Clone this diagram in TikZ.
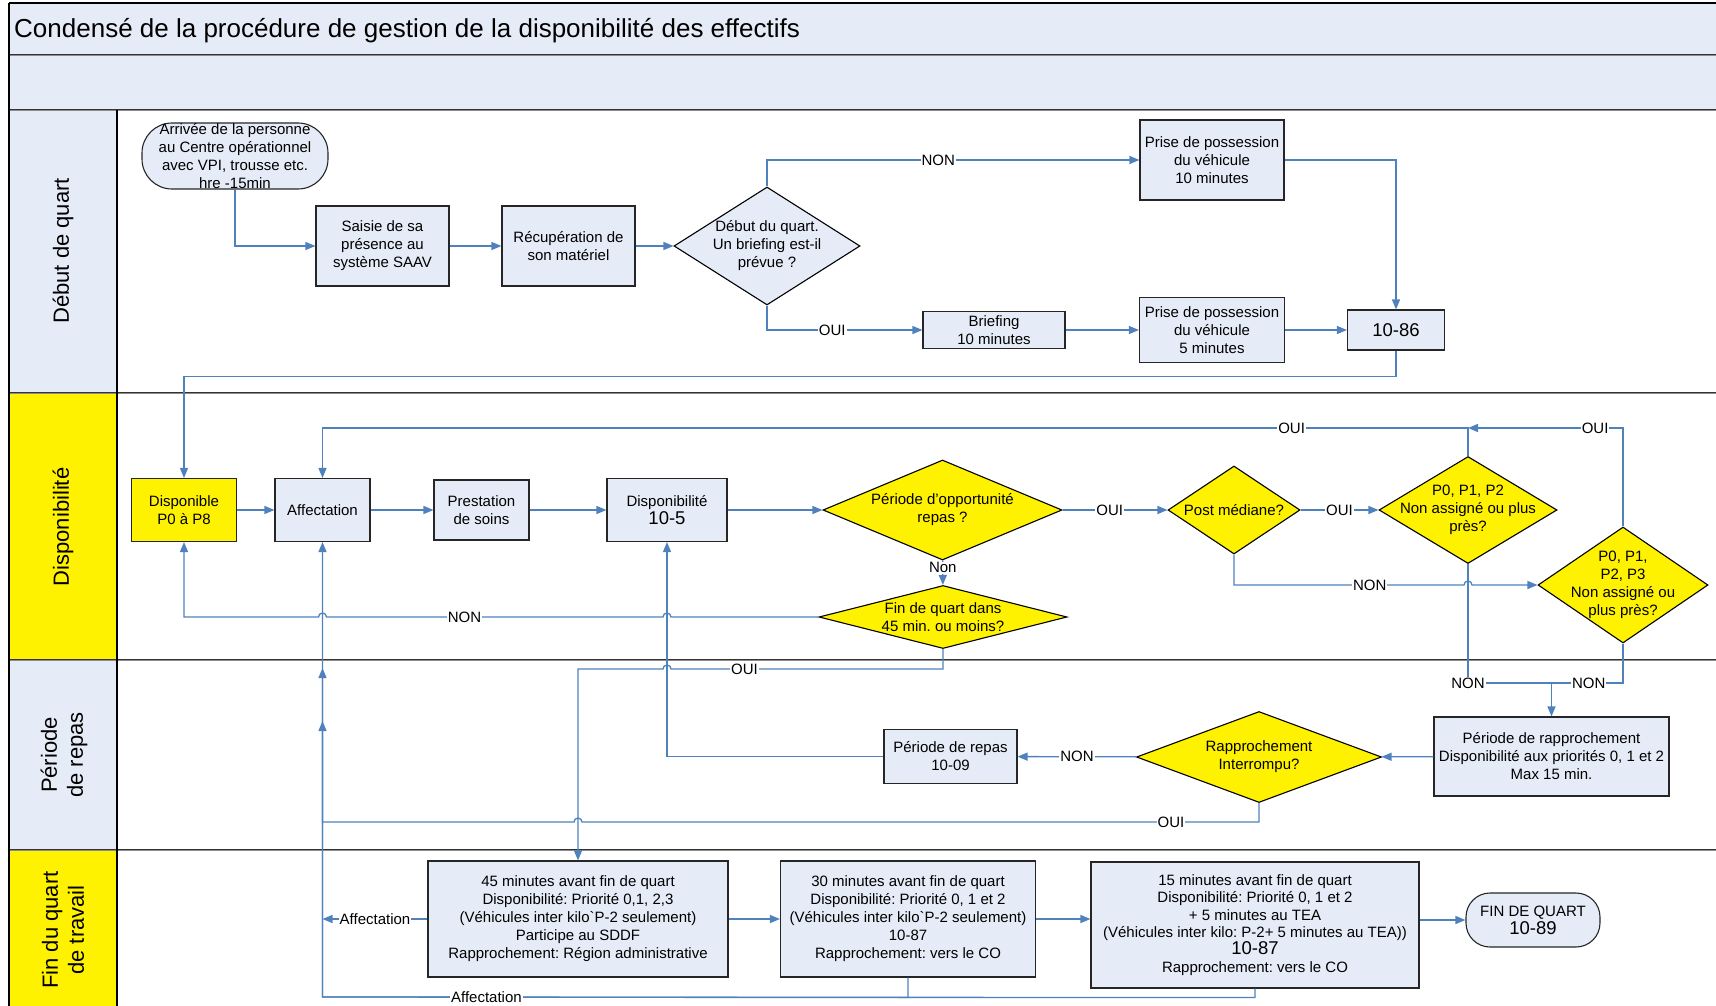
\documentclass[tikz,border=0pt]{standalone}
\usepackage{fontspec}
\setmainfont{Liberation Sans}
\usetikzlibrary{arrows.meta,shapes.geometric}

\definecolor{lanebg}{RGB}{230,236,247}
\definecolor{conn}{RGB}{79,129,189}
\newcommand{\nfont}{\fontsize{15}{18}\selectfont}
\newcommand{\bigfont}{\fontsize{18.5}{22}\selectfont}
\newcommand{\titlefont}{\fontsize{26}{30}\selectfont}
\newcommand{\lanefont}{\fontsize{22}{26}\selectfont}
\frenchspacing

\begin{document}
\begin{tikzpicture}[x=1pt, y=-1pt, >={Triangle[length=10pt,width=8pt]}, inner sep=0pt,
	box/.style={rectangle, draw=black!85, fill=lanebg, line width=1.1pt, align=center, font=\nfont},
	ybox/.style={box, fill=yellow},
	dec/.style={diamond, draw=black, fill=yellow, line width=1.1pt},
	dtxt/.style={align=center, font=\nfont},
	lbl/.style={fill=white, inner sep=1pt, font=\nfont},
	flow/.style={draw=conn, line width=1.3pt},
	lane/.style={line width=1pt, draw=black!80, double=black!45, double distance=0.8pt}]
	\useasboundingbox (0,0) rectangle (1716,1006);
	
	% bandeaux et couloirs
	\fill[lanebg] (9,3) rectangle (1716,110);
	\fill[lanebg] (9,110) rectangle (117,393);
	\fill[yellow] (9,393) rectangle (117,660);
	\fill[lanebg] (9,660) rectangle (117,850);
	\fill[yellow] (9,850) rectangle (117,1006);
	\draw[line width=1.2pt] (9,3) -- (1716,3);
	\foreach \yy in {55,110,393,660,850}
		\draw[lane] (9,\yy) -- (1716,\yy);
	\draw[line width=2pt] (9,3) -- (9,1006);
	\draw[line width=1.2pt] (117,110) -- (117,1006);
	
	\node[anchor=west, font=\titlefont] (titre) at (14,31) {Condensé de la procédure de gestion de la disponibilité des effectifs};
	\node[rotate=90, font=\lanefont] (ldebut) at (63,251) {Début de quart};
	\node[rotate=90, font=\lanefont] (ldispo) at (63,527) {Disponibilité};
	\node[rotate=90, font=\lanefont, align=center] (lrepas) at (64,755) {Période\\de repas};
	\node[rotate=90, font=\lanefont, align=center] (lfin) at (63,930) {Fin du quart\\de travail};
	
	% debut de quart
	\node[box, minimum width=186pt, minimum height=66pt, rounded corners=30pt, inner ysep=-4pt] (arrivee) at (235,156) {Arrivée de la personne\\au Centre opérationnel\\avec VPI, trousse etc.\\hre -15min};
	\node[box, minimum width=133pt, minimum height=80pt] (saisie) at (382.5,246) {Saisie de sa\\présence au\\système SAAV};
	\node[box, minimum width=133pt, minimum height=80pt] (recup) at (568.5,246) {Récupération de\\son matériel};
	\node[dec, fill=lanebg, minimum width=186pt, minimum height=118pt, label={[dtxt]center:{Début du quart.\\Un briefing est-il\\prévue ?}}] (briefq) at (767,246) {};
	\node[box, minimum width=144pt, minimum height=80pt] (prisedix) at (1212,160) {Prise de possession\\du véhicule\\10 minutes};
	\node[box, minimum width=142pt, minimum height=37pt] (briefing) at (994,330) {Briefing\\10 minutes};
	\node[box, minimum width=145pt, minimum height=65pt] (prisecinq) at (1212,330) {Prise de possession\\du véhicule\\5 minutes};
	\node[box, minimum width=97pt, minimum height=40pt, font=\bigfont] (a1086) at (1396,330) {10-86};
	
	% disponibilite
	\node[ybox, minimum width=105pt, minimum height=63pt] (dispo) at (184,510) {Disponible\\P0 à P8};
	\node[box, minimum width=95pt, minimum height=63pt] (affect) at (322.5,510) {Affectation};
	\node[box, minimum width=95pt, minimum height=60pt] (prest) at (481.5,510) {Prestation\\de soins};
	\node[box, minimum width=120pt, minimum height=63pt] (dispo105) at (667,510) {Disponibilité\\{\bigfont 10-5}};
	\node[dec, minimum width=239pt, minimum height=100pt, label={[dtxt]center:{Période d’opportunité\\repas ?}}] (opport) at (942.5,510) {};
	\node[dec, minimum width=132pt, minimum height=88pt, label={[dtxt]center:{Post médiane?}}] (postmed) at (1234,510) {};
	\node[dec, minimum width=178pt, minimum height=107pt, label={[dtxt]center:{P0, P1, P2\\Non assigné ou plus\\près?}}] (ptrois) at (1468,510) {};
	\node[dec, minimum width=170pt, minimum height=116pt, label={[dtxt]center:{P0, P1,\\P2, P3\\Non assigné ou\\plus près?}}] (pquatre) at (1623,585) {};
	\node[dec, minimum width=248pt, minimum height=63pt, label={[dtxt]center:{Fin de quart dans\\45 min. ou moins?}}] (finq) at (943,617) {};
	
	% periode de repas
	\node[box, minimum width=235pt, minimum height=79pt] (rappro) at (1551.5,756.5) {Période de rapprochement\\Disponibilité aux priorités 0, 1 et 2\\Max 15 min.};
	\node[dec, minimum width=245pt, minimum height=91pt, label={[dtxt]center:{Rapprochement\\Interrompu?}}] (interr) at (1259,757) {};
	\node[box, minimum width=133pt, minimum height=54pt] (repas) at (950.5,756.5) {Période de repas\\10-09};
	
	% fin du quart
	\node[box, minimum width=300pt, minimum height=116pt] (m45) at (578,919) {45 minutes avant fin de quart\\Disponibilité: Priorité 0,1, 2,3\\(Véhicules inter kilo\textasciigrave P-2 seulement)\\Participe au SDDF\\Rapprochement: Région administrative};
	\node[box, minimum width=255pt, minimum height=116pt] (m30) at (908,919) {30 minutes avant fin de quart\\Disponibilité: Priorité 0, 1 et 2\\(Véhicules inter kilo\textasciigrave P-2 seulement)\\10-87\\Rapprochement: vers le CO};
	\node[box, minimum width=328pt, minimum height=126pt, font=\fontsize{15}{17.3}\selectfont] (m15) at (1255,925) {15 minutes avant fin de quart\\Disponibilité: Priorité 0, 1 et 2\\+ 5 minutes au TEA\\(Véhicules inter kilo: P-2+ 5 minutes au TEA))\\{\bigfont 10-87}\\Rapprochement: vers le CO};
	\node[box, minimum width=134pt, minimum height=54pt, rounded corners=24pt] (finquart) at (1533,920) {FIN DE QUART\\{\bigfont 10-89}};
	
	% liens
	\draw[flow,->] (arrivee.south) |- (saisie.west);
	\draw[flow,->] (saisie) -- (recup);
	\draw[flow,->] (recup) -- (briefq);
	\draw[flow,->] (briefq.north) |- node[lbl,pos=0.73]{NON} (prisedix.west);
	\draw[flow,->] (briefq.south) |- node[lbl,pos=0.71]{OUI} (briefing.west);
	\draw[flow,->] (briefing) -- (prisecinq);
	\draw[flow,->] (prisecinq) -- (a1086);
	\draw[flow,->] (prisedix.east) -| (a1086.north);
	\draw[flow,->] (a1086.south) -- ++(0,26) -| (dispo.north);
	
	\draw[flow,->] (dispo) -- (affect);
	\draw[flow,->] (affect) -- (prest);
	\draw[flow,->] (prest) -- (dispo105);
	\draw[flow,->] (dispo105) -- (opport);
	\draw[flow,->] (opport) -- node[lbl,pos=0.45]{OUI} (postmed);
	\draw[flow,->] (postmed) -- node[lbl]{OUI} (ptrois);
	\draw[flow,->] (opport) -- node[lbl,pos=0.3]{Non} (finq);
	\draw[flow,->] (finq.west) -- (671,617) arc[start angle=0,end angle=-180,radius=4] -- node[lbl,pos=0.59]{NON} (326.5,617) arc[start angle=0,end angle=-180,radius=4] -- (dispo.south |- finq.west) -- (dispo.south);
	\draw[flow,->] (finq.south) -- (943,669) -- node[lbl,pos=0.73]{OUI} (671,669) arc[start angle=0,end angle=-180,radius=4] -- (578,669) -- (m45.north);
	\draw[flow,->] (ptrois.north) -- (1468,428) -- node[lbl,pos=0.154]{OUI} (322.5,428) -- (affect.north);
	\draw[flow,->] (pquatre.north) -- (1623,428) -- node[lbl,pos=0.18]{OUI} (1468,428);
	\draw[flow,->] (postmed.south) -- (1234,585) -- node[lbl,pos=0.59]{NON} (1464,585) arc[start angle=180,end angle=360,radius=4] -- (pquatre.west);
	
	\coordinate (nonjoin) at (1551.5,683);
	\draw[flow] (ptrois.south) -- node[lbl,pos=1]{NON} (ptrois.south |- nonjoin) -- (nonjoin);
	\draw[flow] (pquatre.south) |- node[lbl,pos=0.74]{NON} (nonjoin);
	\draw[flow,->] (nonjoin) -- (rappro.north);
	\draw[flow,->] (rappro) -- (interr);
	\draw[flow,->] (interr) -- node[lbl]{NON} (repas);
	\draw[flow,->] (repas.west) -| (dispo105.south);
	\draw[flow,->] (interr.south) -- (1259,822) -- node[lbl,pos=0.13]{OUI} (582,822) arc[start angle=0,end angle=-180,radius=4] -- (322.5,822) -- (affect.south);
	
	\draw[flow,->] (m45.west) -- node[lbl]{Affectation} (m45.west -| affect.south);
	\draw[flow,->] (m45) -- (m30);
	\draw[flow,->] (m30.east) -- (m30.east -| m15.west);
	\draw[flow,->] (m15.east |- finquart.west) -- (finquart.west);
	\draw[flow,->] (m15.south) -- ++(0,9) -- (322.5,997) -- (322.5,668);
	\draw[flow,->] (m30.south) -- ++(0,20) -- node[lbl,pos=0.72]{Affectation} (322.5,997) -- (322.5,721);
\end{tikzpicture}
\end{document}
